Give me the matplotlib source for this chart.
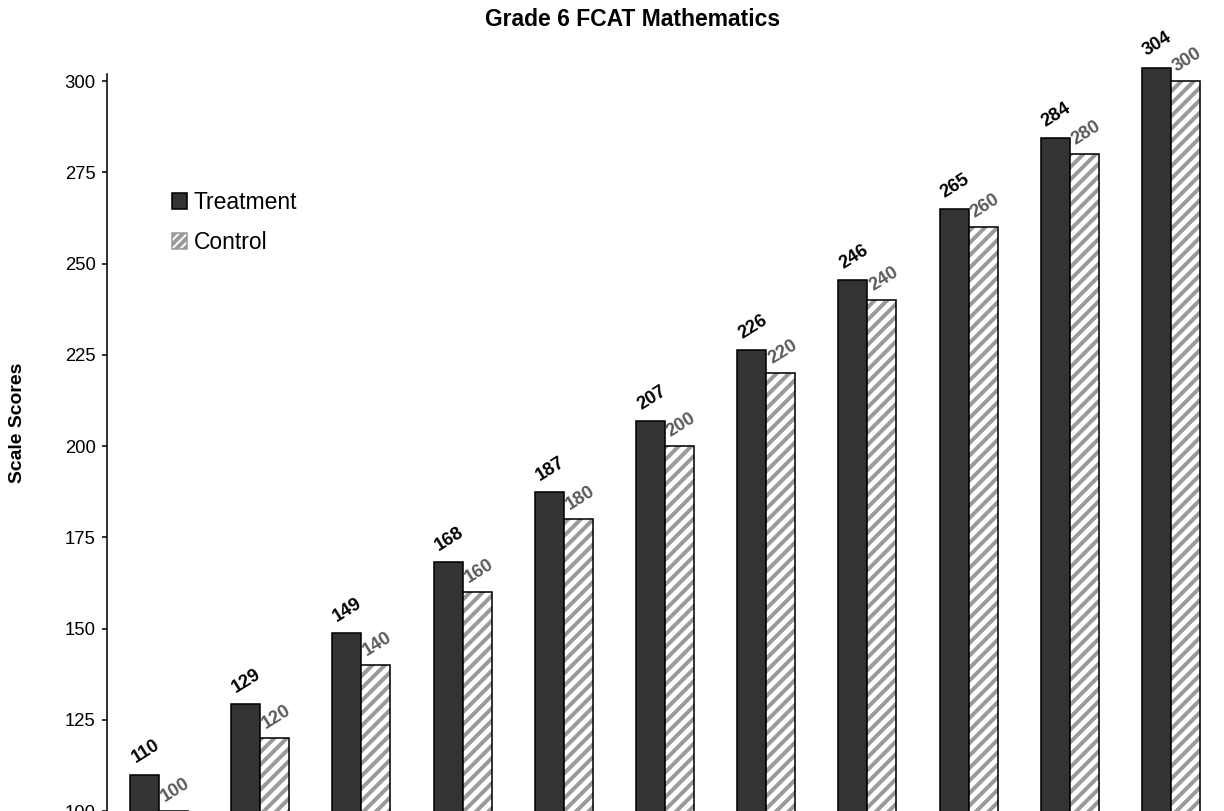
import matplotlib
matplotlib.use("Agg")
import matplotlib.pyplot as plt
import numpy as np
from matplotlib.patches import Patch

plt.rcParams['font.family'] = ['Liberation Sans', 'DejaVu Sans']
plt.rcParams['hatch.linewidth'] = 1.9

title = "Grade 6 FCAT Mathematics"
ylabel = "Scale Scores"
series_names = ["Treatment", "Control"]
treatment = [109.9, 129.3, 148.7, 168.1, 187.4, 206.8, 226.2, 245.6, 265.0, 284.3, 303.7]
treatment_labels = ["110", "129", "149", "168", "187", "207", "226", "246", "265", "284", "304"]
control = [100, 120, 140, 160, 180, 200, 220, 240, 260, 280, 300]
control_labels = ["100", "120", "140", "160", "180", "200", "220", "240", "260", "280", "300"]
yticks = [100, 125, 150, 175, 200, 225, 250, 275, 300]

W, H = 1224, 811
fig = plt.figure(figsize=(W / 150, H / 150), dpi=150)
ax = fig.add_axes([107 / W, 0.0, 0.9123, 0.9451])

x = np.arange(len(treatment))
bw = 0.2866
dark = "#333333"
hatch_gray = "#9a9a9a"

ax.bar(x - bw / 2, treatment, bw, bottom=0, color=dark, edgecolor="black", linewidth=0.75, zorder=2)
ax.bar(x + bw / 2, control, bw, color="white", edgecolor=hatch_gray, hatch="////", linewidth=0, zorder=2)
ax.bar(x + bw / 2, control, bw, color="none", edgecolor="black", linewidth=0.75, zorder=3)

for xi, v, lab in zip(x, treatment, treatment_labels):
    ax.annotate(lab, (xi - bw / 2, v), xytext=(1, 23), textcoords="offset pixels",
                ha="center", va="center", rotation=32, fontsize=8.8, fontweight="bold",
                color="black", annotation_clip=False)
for xi, v, lab in zip(x, control, control_labels):
    ax.annotate(lab, (xi + bw / 2, v), xytext=(2, 21), textcoords="offset pixels",
                ha="center", va="center", rotation=32, fontsize=8.8, fontweight="bold",
                color="#5a5a5a", annotation_clip=False)

ax.set_xlim(-0.514, 10.52)
ax.set_ylim(100, 310)
ax.set_yticks(yticks)
ax.set_yticklabels([str(t) for t in yticks])
ax.tick_params(axis='y', direction='out', length=2.5, width=0.75, labelsize=8.9, pad=3)
ax.set_xticks([])
for s in ["top", "right", "bottom"]:
    ax.spines[s].set_visible(False)
ax.spines["left"].set_linewidth(0.75)
ax.spines["left"].set_bounds(100, 302)
ax.patch.set_visible(False)

fig.text(633 / W, 1 - 20 / H, title, ha="center", va="center", fontsize=11, fontweight="bold")
fig.text(18 / W, 1 - 423 / H, ylabel, ha="center", va="center", rotation=90, fontsize=9.3, fontweight="bold")

handles = [Patch(facecolor=dark, edgecolor="black", linewidth=0.75),
           Patch(facecolor="white", edgecolor=hatch_gray, hatch="//////", linewidth=0.75)]
leg = fig.legend(handles, series_names, loc="upper left", bbox_to_anchor=(172 / W, 1 - 191 / H),
                 frameon=False, fontsize=11, handlelength=0.65, handleheight=0.65,
                 handletextpad=0.3, labelspacing=0.75, borderpad=0, borderaxespad=0)

fig.savefig("out.png", dpi=150)
